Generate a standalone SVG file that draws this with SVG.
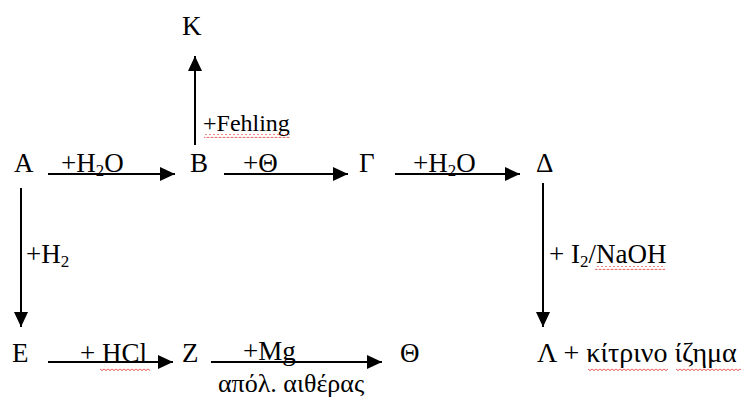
<svg xmlns="http://www.w3.org/2000/svg" width="743" height="401" viewBox="0 0 743 401">
<defs>
<marker id="ah" markerUnits="userSpaceOnUse" markerWidth="15" markerHeight="14" refX="15" refY="7" orient="auto">
<path d="M0,0 L15,7 L0,14 z" fill="#000"/>
</marker>
<pattern id="wavy" patternUnits="userSpaceOnUse" width="4" height="4">
<path d="M0,0.7 L2,2.7 L4,0.7" fill="none" stroke="#e02020" stroke-width="0.9"/>
</pattern>
</defs>
<rect width="743" height="401" fill="#fff"/>
<g id="connectors" stroke="#000" stroke-width="2" marker-end="url(#ah)">
<line x1="48" y1="174" x2="175" y2="174" marker-end="url(#ah)"/>
<line x1="224" y1="174" x2="348" y2="174" marker-end="url(#ah)"/>
<line x1="395" y1="174" x2="520" y2="174" marker-end="url(#ah)"/>
<line x1="195" y1="145" x2="195" y2="56" marker-end="url(#ah)"/>
<line x1="21" y1="188" x2="21" y2="327" marker-end="url(#ah)"/>
<line x1="543" y1="183" x2="543" y2="327" marker-end="url(#ah)"/>
<line x1="48" y1="362" x2="173" y2="362" marker-end="url(#ah)"/>
<line x1="211" y1="362" x2="382" y2="362" marker-end="url(#ah)"/>
</g>
<g id="labels">
<text font-family="Liberation Serif" font-size="27" x="61" y="172">+H<tspan font-size="17" dy="4">2</tspan><tspan dy="-4">O</tspan></text>
<text font-family="Liberation Serif" font-size="27" x="243" y="172">+Θ</text>
<text font-family="Liberation Serif" font-size="27" x="413" y="172">+H<tspan font-size="17" dy="4">2</tspan><tspan dy="-4">O</tspan></text>
<text font-family="Liberation Serif" font-size="24" x="203" y="131">+Fehling</text>
<rect fill="url(#wavy)" x="204" y="134" width="86" height="4"/>
<text font-family="Liberation Serif" font-size="27" x="26" y="263">+H<tspan font-size="17" dy="4">2</tspan></text>
<text font-family="Liberation Serif" font-size="27" x="549" y="263">+ I<tspan font-size="17" dy="4">2</tspan><tspan dy="-4">/NaOH</tspan></text>
<rect fill="url(#wavy)" x="595" y="266" width="70" height="4"/>
<text font-family="Liberation Serif" font-size="27" x="80" y="362">+ HCl</text>
<rect fill="url(#wavy)" x="100" y="367" width="50" height="4"/>
<text font-family="Liberation Serif" font-size="27" x="243" y="360">+Mg</text>
<text font-family="Liberation Serif" font-size="26" x="218" y="392">απόλ. αιθέρας</text>
</g>
<g id="node-K"><text font-family="Liberation Serif" font-size="27" x="182" y="35">K</text></g>
<g id="node-A"><text font-family="Liberation Serif" font-size="27" x="14" y="172">A</text></g>
<g id="node-B"><text font-family="Liberation Serif" font-size="27" x="190" y="172">B</text></g>
<g id="node-G"><text font-family="Liberation Serif" font-size="27" x="359" y="172">Γ</text></g>
<g id="node-D"><text font-family="Liberation Serif" font-size="27" x="536" y="172">Δ</text></g>
<g id="node-E"><text font-family="Liberation Serif" font-size="27" x="12" y="362">E</text></g>
<g id="node-Z"><text font-family="Liberation Serif" font-size="27" x="182" y="362">Z</text></g>
<g id="node-Th"><text font-family="Liberation Serif" font-size="27" x="400" y="362">Θ</text></g>
<g id="node-L"><text font-family="Liberation Serif" font-size="28" x="537" y="362">Λ + κίτρινο ίζημα</text>
<rect fill="url(#wavy)" x="588" y="367" width="80" height="4"/>
<rect fill="url(#wavy)" x="676" y="367" width="65" height="4"/>
</g>
</svg>
